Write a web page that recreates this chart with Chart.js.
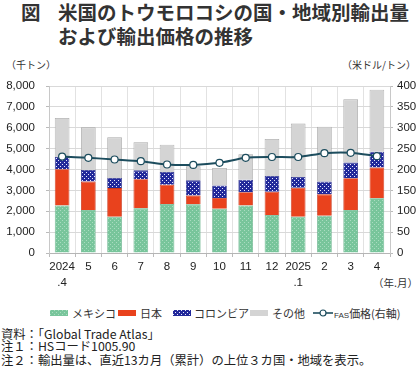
<!DOCTYPE html>
<html><head><meta charset="utf-8">
<script src="https://cdn.jsdelivr.net/npm/chart.js@4/dist/chart.umd.min.js"></script>
<style>
html,body{margin:0;padding:0;background:#fff;}
body{width:420px;height:378px;position:relative;overflow:hidden;font-family:"Noto Sans CJK JP","Liberation Sans",sans-serif;color:#222;}
.abs{position:absolute;white-space:nowrap;}
#t1,#t2,#tz{font-size:19.5px;font-weight:700;line-height:24px;color:#333;}
.unit{font-size:10px;line-height:12px;color:#333;}
.note{font-size:12.3px;line-height:14px;left:1px;color:#222;}
.lg{font-size:11px;line-height:12px;color:#333;}
.sw{position:absolute;width:18px;height:6px;}
</style></head>
<body>
<div class="abs" id="tz" style="left:21px;top:0px;">図</div>
<div class="abs" id="t1" style="left:58px;top:0px;">米国のトウモロコシの国・地域別輸出量</div>
<div class="abs" id="t2" style="left:58px;top:24px;">および輸出価格の推移</div>
<div class="abs unit" style="left:6px;top:59px;">（千トン）</div>
<div class="abs unit" style="right:4px;top:59px;">（米ドル/トン）</div>
<div class="abs unit" style="right:2px;top:277px;font-size:10.5px;">（年.月）</div>
<canvas id="c" width="420" height="250" style="position:absolute;left:0;top:50px;width:420px;height:250px;"></canvas>
<div id="legend"></div>
<div class="abs note" style="top:327px;">資料：「Global Trade Atlas」</div>
<div class="abs note" style="top:339px;">注１：HSコード1005.90</div>
<div class="abs note" style="top:353px;">注２：輸出量は、直近13カ月（累計）の上位３カ国・地域を表示。</div>
<script>
const categories = [["2024",".4"],"5","6","7","8","9","10","11","12",["2025",".1"],"2","3","4"];
const seriesNames = ["メキシコ","日本","コロンビア","その他","FAS価格（右軸）"];
const mexico   = [2280,2060,1740,2140,2350,2330,2120,2280,1820,1740,1790,2060,2620];
const japan    = [1730,1360,1370,1390, 920, 430, 520, 630,1120,1390,1020,1520,1480];
const colombia = [ 590, 560, 480, 430, 610, 720, 590, 600, 750, 510, 610, 750, 750];
const others   = [1870,2040,1950,1340,1310, 670, 840,1220,1770,2560,2630,3030,2970];
const fasPrice = [231,228,224,220,212,211,216,228,230,230,239,240,232];
const leftTicks = {min:0,max:8000,step:1000};
const rightTicks = {min:0,max:400,step:50};

function tile(bg, fg, dots, size){
  const c=document.createElement('canvas'); c.width=c.height=size;
  const x=c.getContext('2d'); x.fillStyle=bg; x.fillRect(0,0,size,size);
  x.fillStyle=fg; dots.forEach(d=>x.fillRect(d[0],d[1],1,1)); return c;
}
const ctx=document.getElementById('c').getContext('2d');
const mexTile = tile('#78c59b','#a9dcc0',[[0,0],[2,2]],4);
const colTile = tile('#22299a','#e8eaff',[[0,0],[2,2]],4);
const mexPat = ctx.createPattern(mexTile,'repeat');
const colPat = ctx.createPattern(colTile,'repeat');
const japColor='#e9421d', othColor='#d4d4d4', lineColor='#1d4d5e';

const tickFont={family:"'Liberation Sans', Arial, sans-serif",size:11.5};
new Chart(ctx,{
  data:{labels:categories,datasets:[
    {type:'line',label:seriesNames[4],data:fasPrice,yAxisID:'y1',order:0,borderColor:lineColor,borderWidth:2,
     pointRadius:3.5,pointBackgroundColor:'#fff',pointBorderColor:lineColor,pointBorderWidth:1.2,tension:0.25},
    {type:'bar',label:seriesNames[0],data:mexico,yAxisID:'y',order:1,backgroundColor:mexPat,borderColor:'#6ab38c',borderWidth:0.8},
    {type:'bar',label:seriesNames[1],data:japan,yAxisID:'y',order:1,backgroundColor:japColor,borderColor:'#c9361a',borderWidth:0.8},
    {type:'bar',label:seriesNames[2],data:colombia,yAxisID:'y',order:1,backgroundColor:colPat,borderColor:'#2a2f8a',borderWidth:0.8},
    {type:'bar',label:seriesNames[3],data:others,yAxisID:'y',order:1,backgroundColor:othColor,borderColor:'#a8a8a8',borderWidth:0.8}
  ]},
  options:{
    responsive:false,animation:false,
    datasets:{bar:{barPercentage:0.56,categoryPercentage:1}},
    layout:{padding:{top:36,left:0,right:0,bottom:0}},
    plugins:{legend:{display:false},tooltip:{enabled:false}},
    scales:{
      x:{stacked:true,grid:{color:'#e2e2e2',tickLength:4,offset:true,tickColor:'#bbb'},border:{color:'#b5b5b5'},
         ticks:{font:{...tickFont,lineHeight:1.4},color:'#222',padding:2,maxRotation:0,autoSkip:false},
         afterFit:s=>{s.height=47;}},
      y:{stacked:true,position:'left',min:leftTicks.min,max:leftTicks.max,
         grid:{color:'#d9d9d9',tickLength:3,tickColor:'#bbb'},border:{color:'#c8c8c8'},
         ticks:{stepSize:leftTicks.step,font:tickFont,color:'#222',padding:11,callback:v=>v.toLocaleString('en-US')},
         afterFit:s=>{s.width=49;}},
      y1:{position:'right',min:rightTicks.min,max:rightTicks.max,
         grid:{drawOnChartArea:false,tickLength:3,tickColor:'#bbb'},border:{color:'#c8c8c8'},
         ticks:{stepSize:rightTicks.step,font:tickFont,color:'#222',padding:4},
         afterFit:s=>{s.width=30;}}
    }
  }
});

// HTML legend
const lg=document.getElementById('legend');
const items=[
  {sw:mexTile.toDataURL(),x:50,tx:72,t:seriesNames[0]},
  {col:japColor,x:118,tx:140,t:seriesNames[1]},
  {sw:colTile.toDataURL(),x:173,tx:194,t:seriesNames[2]},
  {col:othColor,x:250,tx:272,t:seriesNames[3]},
];
items.forEach(it=>{
  const s=document.createElement('div'); s.className='sw';
  s.style.left=it.x+'px'; s.style.top='310px';
  if(it.sw){s.style.backgroundImage='url('+it.sw+')';} else {s.style.background=it.col;}
  lg.appendChild(s);
  const t=document.createElement('div'); t.className='abs lg'; t.style.left=it.tx+'px'; t.style.top='307px'; t.textContent=it.t;
  lg.appendChild(t);
});
const sv=document.createElementNS('http://www.w3.org/2000/svg','svg');
sv.setAttribute('width','20');sv.setAttribute('height','10');
sv.style.position='absolute';sv.style.left='313px';sv.style.top='308px';
sv.innerHTML='<line x1="0" y1="5" x2="20" y2="5" stroke="'+lineColor+'" stroke-width="1.6"/><circle cx="10" cy="5" r="3" fill="#fff" stroke="'+lineColor+'" stroke-width="1.2"/>';
lg.appendChild(sv);
const t5=document.createElement('div'); t5.className='abs lg'; t5.style.left='334px'; t5.style.top='307px';
t5.innerHTML='<span style="font-family:\'Liberation Sans\',sans-serif;font-size:8px;">FAS</span>価格(右軸)';
lg.appendChild(t5);
</script>
</body></html>
